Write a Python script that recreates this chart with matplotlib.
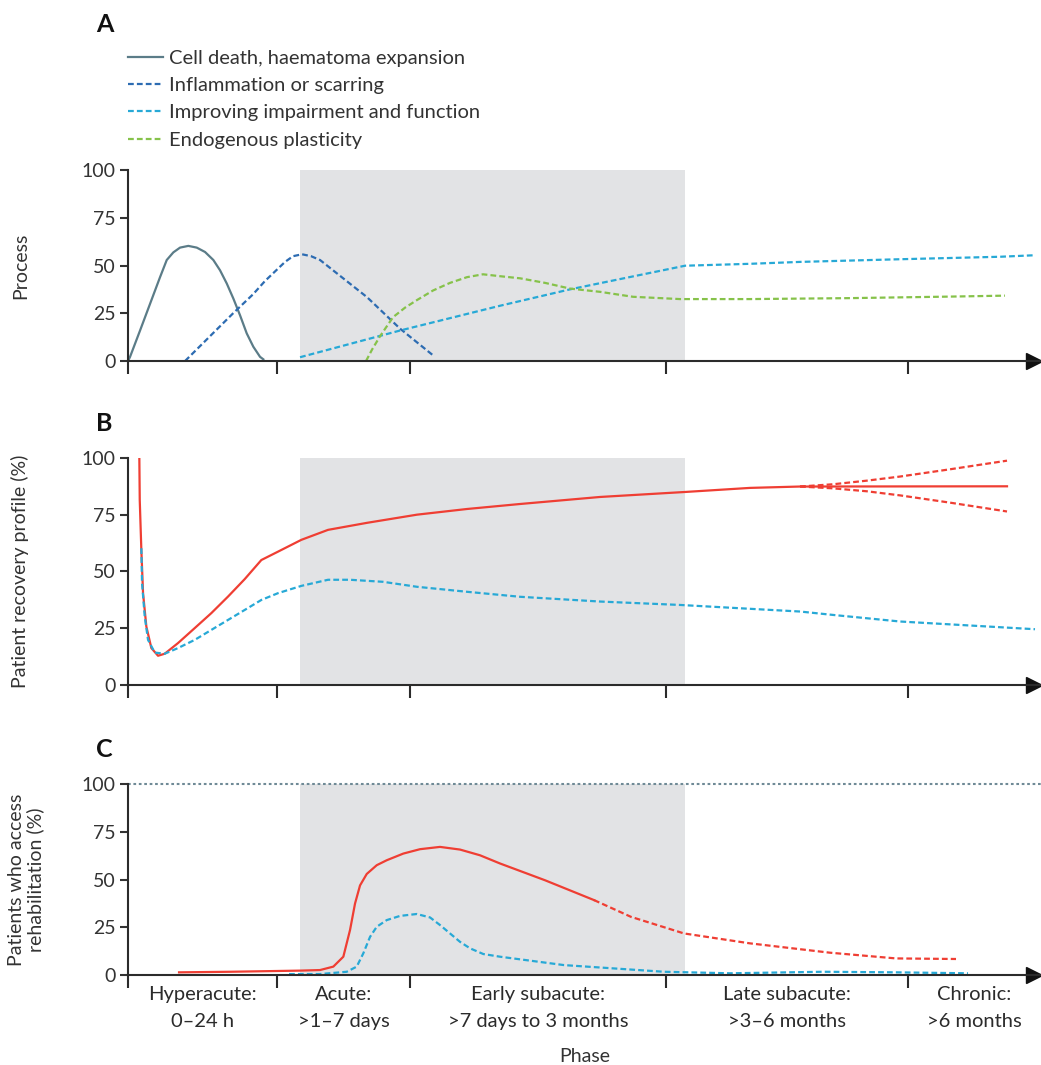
import matplotlib
matplotlib.use("Agg")
import matplotlib.pyplot as plt
import numpy as np

DARK = "#2b2b2b"
plt.rcParams.update({
    "font.family": ["Lato", "DejaVu Sans"],
    "font.size": 14,
    "text.color": "#333333",
    "axes.edgecolor": DARK,
    "axes.labelcolor": "#333333",
    "xtick.color": DARK,
    "ytick.color": "#333333",
    "figure.facecolor": "white",
})

C_CELL = "#5b7c88"
C_INFL = "#2d6cb2"
C_IMPR = "#27a9d6"
C_PLAS = "#86c24a"
C_RED = "#ef3e33"
C_SHADE = "#e2e3e5"

# time axis in arbitrary units (0 = onset, 913 = end of arrow)
PHASE_BOUNDS = [0, 149, 282, 538, 780]
X_END = 913
SHADE = (172, 557)
PHASE_LABELS = ["Hyperacute:\n0\u201324 h", "Acute:\n>1\u20137 days",
                "Early subacute:\n>7 days to 3 months",
                "Late subacute:\n>3\u20136 months", "Chronic:\n>6 months"]

# ---- panel A: processes
cell_x = [0, 2, 12, 22, 32, 38.7, 45.3, 52, 60.3, 68.7, 77, 85.3, 92, 98.7,
          105.3, 112, 118.7, 125.3, 132, 135.3]
cell_y = [0, 2.2, 16, 30, 44, 53, 57, 59.5, 60.4, 59.5, 57.2, 53, 47.6, 40.7,
          32.8, 24, 14.5, 7.5, 2.2, 0.9]
infl_x = [57, 85, 105, 125, 137, 149, 157, 165, 174, 183, 192, 205, 239, 272, 305]
infl_y = [0, 14.6, 25, 35, 42, 48, 52, 55, 56, 55, 53, 47.6, 33.5, 17, 3]
impr_x = [172, 272, 372, 442, 557, 622, 672, 772, 872, 907]
impr_y = [2, 16, 29, 37.6, 50, 51, 52, 53.4, 54.7, 55.5]
plas_x = [238, 244, 252, 265, 277, 289, 305, 322, 339, 355, 372, 392, 417,
          442, 472, 505, 552, 622, 722, 822, 877]
plas_y = [0, 6, 13, 23, 28, 32, 37, 41, 44, 45.5, 44.5, 43.4, 41,
          38, 36.3, 33.7, 32.5, 32.5, 33, 33.8, 34.3]

# ---- panel B: recovery profile
rec_x = [11.3, 11.7, 13.3, 15, 18.3, 23.3, 30, 36.7, 50, 66.7, 83.3, 100, 116.7,
         133.3, 150, 173.3, 200, 239, 289, 339, 392, 472, 557, 622, 672, 879]
rec_y = [100, 81.5, 59.5, 40.4, 25.7, 16.2, 12.8, 13.7, 18.4, 25, 31.6, 38.9, 46.6,
         55, 58.7, 63.9, 68.3, 71.4, 75, 77.5, 79.7, 82.8, 85, 86.8, 87.4, 87.5]
fan_x = [672, 705, 739, 772, 822, 879]
fan_hi = [87.4, 88.4, 90, 91.8, 95, 98.8]
fan_lo = [87.4, 86.6, 85.3, 83.5, 80.3, 76.4]
lmic_x = [13.3, 14, 16.7, 20, 26.7, 36.7, 50, 66.7, 83.3, 100, 116.7, 133.3, 150,
          173.3, 200, 222, 255, 289, 339, 392, 472, 552, 622, 672, 705, 772, 907]
lmic_y = [60.2, 44.8, 30, 19.8, 14.2, 13.7, 16.2, 19.8, 24.2, 28.6, 33, 37.4, 40.4,
          43.6, 46.3, 46.3, 45.4, 43.2, 41, 38.8, 36.7, 35.2, 33.5, 32.3, 30.8, 27.9, 24.5]

# ---- panel C: access to rehabilitation
acc_x = [51, 102, 172, 192, 205.3, 215.3, 222, 227, 232, 238.7, 248.7, 258.7,
         275.3, 292, 312, 332, 352, 372, 417, 466]
acc_y = [1.4, 1.7, 2.3, 2.6, 4.4, 9.6, 23.6, 37.5, 47, 53, 57.6, 60.2,
         63.7, 66, 67.2, 65.8, 62.8, 58.5, 49.7, 39.3]
acc_dx = [466, 503, 556, 622, 702, 768, 828]
acc_dy = [39.3, 30.5, 21.8, 16.6, 11.7, 8.7, 8.4]
lacc_x = [161, 192, 218.7, 228.7, 235.3, 242, 248.7, 258.7, 272, 288.7, 302, 312,
          322, 332, 342, 355.3, 372, 436, 536, 602, 695, 768, 840]
lacc_y = [0.5, 0.5, 1.7, 4.4, 11.4, 20, 25.3, 28.8, 31, 32, 30.2, 26.2,
          21.8, 17.4, 14, 11, 9.6, 5.2, 1.7, 0.9, 1.7, 1.4, 0.9]

DASH = (0, (2.6, 1.4))
LW = 1.6

fig = plt.figure(figsize=(10.41, 10.65), dpi=100)
L, W = 0.123, 0.877
axA = fig.add_axes([L, 0.661, W, 0.179])
axB = fig.add_axes([L, 0.357, W, 0.213])
axC = fig.add_axes([L, 0.0845, W, 0.179])


def base(ax, last=False):
    ax.axvspan(*SHADE, color=C_SHADE, lw=0, zorder=0)
    ax.set_xlim(0, X_END)
    ax.set_ylim(0, 100)
    ax.set_yticks([0, 25, 50, 75, 100])
    for s in ("top", "right"):
        ax.spines[s].set_visible(False)
    for s in ("left", "bottom"):
        ax.spines[s].set_linewidth(1.5)
    ax.tick_params(axis="y", length=6, width=1.5, pad=3, labelsize=14)
    ax.set_xticks(PHASE_BOUNDS)
    ax.set_xticklabels([])
    ax.tick_params(axis="x", which="major", length=9, width=1.5)
    ax.plot([0.992], [0], marker=">", ms=11, color="#111111",
            transform=ax.get_yaxis_transform(), clip_on=False)
    if last:
        bounds = PHASE_BOUNDS + [X_END]
        centers = [(a + b) / 2 for a, b in zip(bounds[:-1], bounds[1:])]
        ax.set_xticks(centers, minor=True)
        ax.set_xticklabels(PHASE_LABELS, minor=True, fontsize=14.5, linespacing=1.7)
        ax.tick_params(axis="x", which="minor", length=0, pad=8)


# A
base(axA)
axA.plot(cell_x, cell_y, color=C_CELL, lw=LW, label="Cell death, haematoma expansion")
axA.plot(infl_x, infl_y, color=C_INFL, lw=LW, ls=DASH, label="Inflammation or scarring")
axA.plot(impr_x, impr_y, color=C_IMPR, lw=LW, ls=DASH, label="Improving impairment and function")
axA.plot(plas_x, plas_y, color=C_PLAS, lw=LW, ls=DASH, label="Endogenous plasticity")
axA.set_ylabel("Process", fontsize=14)
axA.yaxis.set_label_coords(-0.108, 0.5)
fig.legend(*axA.get_legend_handles_labels(), loc="upper left",
           bbox_to_anchor=(0.123, 0.953), frameon=False, fontsize=14.5,
           handlelength=1.75, handletextpad=0.3, labelspacing=0.5,
           borderpad=0, borderaxespad=0)

# B
base(axB)
axB.plot(rec_x, rec_y, color=C_RED, lw=LW)
axB.plot(fan_x, fan_hi, color=C_RED, lw=LW, ls=DASH)
axB.plot(fan_x, fan_lo, color=C_RED, lw=LW, ls=DASH)
axB.plot(lmic_x, lmic_y, color=C_IMPR, lw=LW, ls=DASH)
axB.set_ylabel("Patient recovery profile (%)", fontsize=14)
axB.yaxis.set_label_coords(-0.108, 0.5)

# C
base(axC, last=True)
axC.axhline(100, color="#6f8a96", lw=1.5, ls=(0, (1.3, 1.3)), clip_on=False)
axC.plot(acc_x, acc_y, color=C_RED, lw=LW)
axC.plot(acc_dx, acc_dy, color=C_RED, lw=LW, ls=DASH)
axC.plot(lacc_x, lacc_y, color=C_IMPR, lw=LW, ls=DASH)
axC.set_ylabel("Patients who access\nrehabilitation (%)", fontsize=14, linespacing=1.1)
axC.yaxis.set_label_coords(-0.092, 0.5)
axC.set_xlabel("Phase", fontsize=14, labelpad=13)

for letter, y in (("A", 0.977), ("B", 0.602), ("C", 0.296)):
    fig.text(0.092, y, letter, fontsize=18, fontweight="bold", color="#111111",
             va="center", ha="left")

fig.savefig("out.png", dpi=100)
